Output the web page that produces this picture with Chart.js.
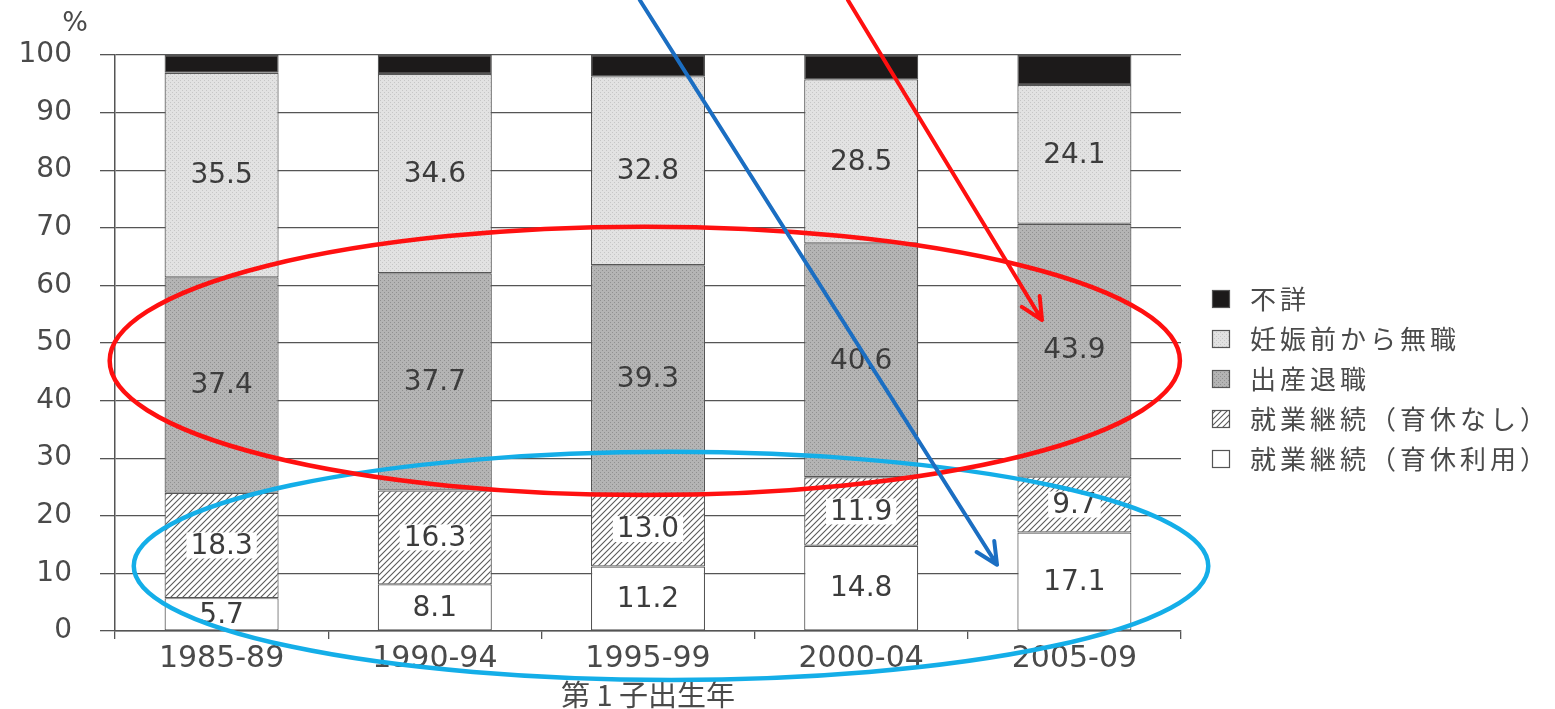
<!DOCTYPE html>
<html lang="ja">
<head>
<meta charset="utf-8">
<title>第1子出生年別にみた出産前後の妻の就業状況</title>
<script src="https://cdn.jsdelivr.net/npm/chart.js@4.4.1/dist/chart.umd.min.js"></script>
<style>
  html, body { margin: 0; padding: 0; background: #ffffff; }
  #wrap { position: relative; width: 1555px; height: 709px; }
  canvas { display: block; }
</style>
</head>
<body>
<div id="wrap"><canvas id="chart" width="1555" height="709"></canvas></div>
<script>
// 第1子出生年（カテゴリ）
const categories = ['1985-89', '1990-94', '1995-99', '2000-04', '2005-09'];

// 系列名（積み上げの下から順）
const seriesNames = ['就業継続（育休利用）', '就業継続（育休なし）', '出産退職', '妊娠前から無職', '不詳'];

// 各系列の割合（%）
const ikukyuRiyou       = [5.7, 8.1, 11.2, 14.8, 17.1];
const ikukyuNashi       = [18.3, 16.3, 13.0, 11.9, 9.7];
const shussanTaishoku   = [37.4, 37.7, 39.3, 40.6, 43.9];
const ninshinMaeMushoku = [35.5, 34.6, 32.8, 28.5, 24.1];
const fushou            = [3.1, 3.3, 3.7, 4.2, 5.2];

// 縦軸の目盛
const yTickValues = [0, 10, 20, 30, 40, 50, 60, 70, 80, 90, 100];

const NUM_FONT = '"DejaVu Sans", "Liberation Sans", sans-serif';
const JP_FONT = '"Noto Sans CJK JP", "Noto Sans", sans-serif';
const INK = '#4a4a4a';
const LINE = '#555555';

// 網掛け（スクリーントーン）と斜線のパターン
function makeTone(base, dot) {
  const c = document.createElement('canvas');
  c.width = 4; c.height = 4;
  const g = c.getContext('2d');
  g.fillStyle = base; g.fillRect(0, 0, 4, 4);
  g.fillStyle = dot;
  g.fillRect(0, 0, 1, 1);
  g.fillRect(2, 2, 1, 1);
  return g.createPattern(c, 'repeat');
}
function makeHatch() {
  const s = 6;
  const c = document.createElement('canvas');
  c.width = s; c.height = s;
  const g = c.getContext('2d');
  g.fillStyle = '#ffffff'; g.fillRect(0, 0, s, s);
  g.strokeStyle = '#5a5a5a'; g.lineWidth = 1.1;
  g.beginPath();
  g.moveTo(-1, s + 1); g.lineTo(s + 1, -1);
  g.moveTo(-1, 1); g.lineTo(1, -1);
  g.moveTo(s - 1, s + 1); g.lineTo(s + 1, s - 1);
  g.stroke();
  return g.createPattern(c, 'repeat');
}

const fills = [
  '#ffffff',
  makeHatch(),
  makeTone('#b4b4b4', '#909090'),
  makeTone('#e2e2e2', '#c6c6c6'),
  '#1c1a1a'
];
const seriesValues = [ikukyuRiyou, ikukyuNashi, shussanTaishoku, ninshinMaeMushoku, fushou];
const showValue = [true, true, true, true, false];
const haloValue = [false, true, false, false, false];

const datasets = seriesNames.map((name, i) => ({
  label: name,
  data: seriesValues[i],
  backgroundColor: fills[i],
  borderColor: LINE,
  borderWidth: 1.2,
  borderSkipped: false,
  barPercentage: 1.0,
  categoryPercentage: 0.535
}));

// 棒の中の数値ラベル
const valueLabels = {
  id: 'valueLabels',
  afterDatasetsDraw(chart) {
    const ctx = chart.ctx;
    ctx.save();
    ctx.font = '28px ' + NUM_FONT;
    ctx.textAlign = 'center';
    ctx.textBaseline = 'middle';
    chart.data.datasets.forEach((ds, i) => {
      if (!showValue[i]) return;
      chart.getDatasetMeta(i).data.forEach((bar, j) => {
        const txt = Number(ds.data[j]).toFixed(1);
        const cx = bar.x;
        const cy = (bar.y + bar.base) / 2;
        if (haloValue[i]) {
          const w = ctx.measureText(txt).width + 8;
          ctx.fillStyle = '#ffffff';
          ctx.fillRect(cx - w / 2, cy - 13, w, 26);
        }
        ctx.fillStyle = '#3c3c3c';
        ctx.fillText(txt, cx, cy + 1);
      });
    });
    ctx.restore();
  }
};

// 凡例（右側、上から不詳→育休利用）
const sideLegend = {
  id: 'sideLegend',
  afterDraw(chart) {
    const ctx = chart.ctx;
    const x0 = 1212, y0 = 299, gap = 40, box = 18;
    ctx.save();
    ctx.font = '26px ' + JP_FONT;
    ctx.textBaseline = 'middle';
    ctx.textAlign = 'left';
    if ('letterSpacing' in ctx) ctx.letterSpacing = '4px';
    const n = chart.data.datasets.length;
    for (let k = 0; k < n; k++) {
      const ds = chart.data.datasets[n - 1 - k];
      const y = y0 + k * gap;
      ctx.fillStyle = ds.backgroundColor;
      ctx.fillRect(x0, y - box / 2, box, box);
      ctx.strokeStyle = LINE;
      ctx.lineWidth = 1.2;
      ctx.strokeRect(x0 + 0.5, y - box / 2 + 0.5, box - 1, box - 1);
      ctx.fillStyle = INK;
      ctx.fillText(ds.label, x0 + 38, y);
    }
    ctx.restore();
  }
};

// 単位表示
const unitLabel = {
  id: 'unitLabel',
  afterDraw(chart) {
    const ctx = chart.ctx;
    ctx.save();
    ctx.font = '27px ' + NUM_FONT;
    ctx.fillStyle = INK;
    ctx.textAlign = 'center';
    ctx.textBaseline = 'middle';
    ctx.fillText('%', 75, 24);
    ctx.restore();
  }
};

// 赤・青の囲みと矢印（軸の値で位置を指定）
const highlights = {
  ellipses: [
    { color: '#14aee8', cat: 2.108, val: 11.3, rCat: 2.52, rVal: 19.8 },
    { color: '#ff1010', cat: 1.985, val: 46.9, rCat: 2.51, rVal: 23.3 }
  ],
  arrows: [
    { color: '#ff1010', from: [2.938, 109.5], to: [3.848, 54.0] },
    { color: '#1b6ec2', from: [1.962, 109.5], to: [3.637, 11.5] }
  ]
};
const highlightPlugin = {
  id: 'highlightPlugin',
  afterDraw(chart) {
    const ctx = chart.ctx;
    const xs = chart.scales.x, ys = chart.scales.y;
    const px = c => xs.getPixelForValue(c);
    const py = v => ys.getPixelForValue(v);
    ctx.save();
    ctx.lineWidth = 4.5;
    ctx.lineCap = 'round';
    ctx.lineJoin = 'round';
    highlights.ellipses.forEach(e => {
      const cx = px(e.cat), cy = py(e.val);
      const rx = Math.abs(px(e.cat + e.rCat) - cx);
      const ry = Math.abs(py(e.val + e.rVal) - cy);
      ctx.strokeStyle = e.color;
      ctx.beginPath();
      ctx.ellipse(cx, cy, rx, ry, 0, 0, Math.PI * 2);
      ctx.stroke();
    });
    highlights.arrows.forEach(a => {
      const x1 = px(a.from[0]), y1 = py(a.from[1]);
      const x2 = px(a.to[0]), y2 = py(a.to[1]);
      const ang = Math.atan2(y2 - y1, x2 - x1);
      const head = 24, spread = Math.PI / 7;
      ctx.strokeStyle = a.color;
      ctx.lineWidth = 4;
      ctx.beginPath();
      ctx.moveTo(x1, y1);
      ctx.lineTo(x2, y2);
      ctx.moveTo(x2 - head * Math.cos(ang - spread), y2 - head * Math.sin(ang - spread));
      ctx.lineTo(x2, y2);
      ctx.lineTo(x2 - head * Math.cos(ang + spread), y2 - head * Math.sin(ang + spread));
      ctx.stroke();
    });
    ctx.restore();
  }
};

new Chart(document.getElementById('chart'), {
  type: 'bar',
  data: { labels: categories, datasets },
  options: {
    responsive: false,
    animation: false,
    layout: { padding: { top: 55, right: 374, left: 0, bottom: 0 } },
    plugins: {
      legend: { display: false },
      tooltip: { enabled: false }
    },
    scales: {
      x: {
        stacked: true,
        offset: true,
        afterFit(scale) { scale.height = 78; },
        grid: {
          offset: true,
          drawOnChartArea: false,
          drawTicks: true,
          tickLength: 8,
          color: LINE,
          lineWidth: 1.3
        },
        border: { display: true, color: LINE, width: 1.5 },
        ticks: {
          font: { family: NUM_FONT, size: 30 },
          color: INK,
          padding: 2,
          maxRotation: 0
        },
        title: {
          display: true,
          text: '第 1 子出生年',
          font: { family: JP_FONT, size: 29, lineHeight: 1 },
          color: INK,
          padding: 0
        }
      },
      y: {
        stacked: true,
        min: 0,
        max: 100,
        afterFit(scale) { scale.width = 115; },
        afterBuildTicks(scale) { scale.ticks = yTickValues.map(v => ({ value: v })); },
        grid: {
          drawOnChartArea: true,
          drawTicks: true,
          tickLength: 15,
          color: LINE,
          lineWidth: 1.3
        },
        border: { display: true, color: LINE, width: 1.5 },
        ticks: {
          font: { family: NUM_FONT, size: 28 },
          color: INK,
          padding: 28
        }
      }
    }
  },
  plugins: [valueLabels, sideLegend, unitLabel, highlightPlugin]
});
</script>
</body>
</html>
